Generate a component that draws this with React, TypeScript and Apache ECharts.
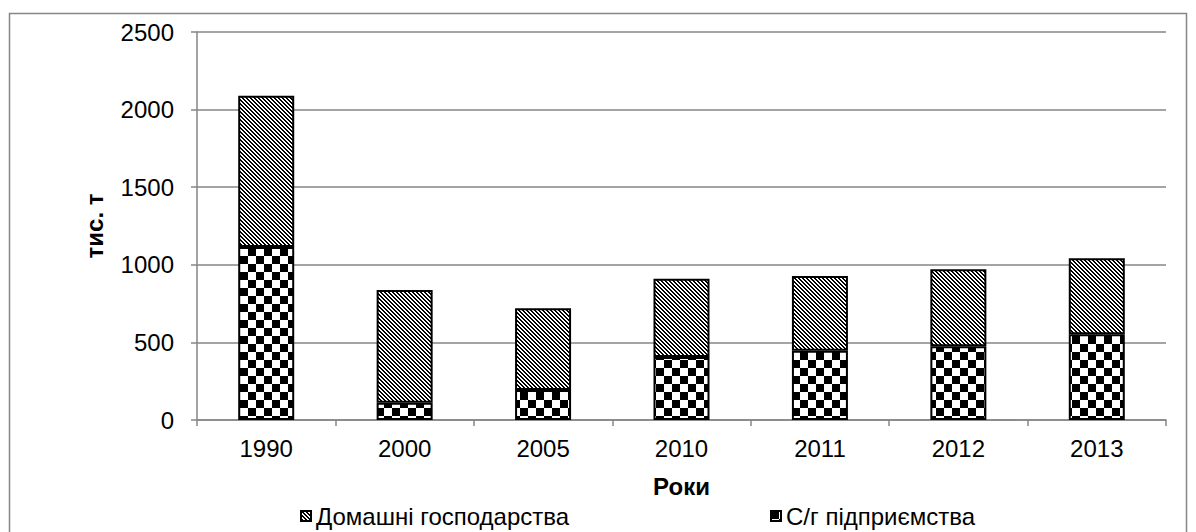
import React, { useEffect, useRef } from "react";
import * as echarts from "echarts";

const years = ["1990", "2000", "2005", "2010", "2011", "2012", "2013"];
const enterprises = [1115, 111, 193, 406, 447, 475, 552];
const households = [975, 727, 527, 504, 481, 496, 490];
const seriesNames = ["Домашні господарства", "С/г підприємства"];
const yTicks = { min: 0, max: 2500, interval: 500 };

function makeChecker(): HTMLCanvasElement {
  const c = document.createElement("canvas");
  const s = 8;
  c.width = s * 2;
  c.height = s * 2;
  const ctx = c.getContext("2d")!;
  ctx.fillStyle = "#ffffff";
  ctx.fillRect(0, 0, s * 2, s * 2);
  ctx.fillStyle = "#000000";
  ctx.fillRect(0, 0, s, s);
  ctx.fillRect(s, s, s, s);
  return c;
}

function makeStripes(): HTMLCanvasElement {
  const c = document.createElement("canvas");
  const n = 4;
  c.width = n;
  c.height = n;
  const ctx = c.getContext("2d")!;
  ctx.fillStyle = "#ffffff";
  ctx.fillRect(0, 0, n, n);
  ctx.fillStyle = "#000000";
  for (let y = 0; y < n; y++) {
    for (let x = 0; x < n; x++) {
      if ((x - y + 2 * n) % n < 2) ctx.fillRect(x, y, 1, 1);
    }
  }
  return c;
}

export default function App() {
  const ref = useRef<HTMLDivElement>(null);
  useEffect(() => {
    if (!ref.current) return;
    const chart = echarts.init(ref.current, undefined, { renderer: "svg" });
    const checker = makeChecker();
    const stripes = makeStripes();
    const font = "'Liberation Sans', Arial, sans-serif";
    const legendText = { fontSize: 24, fontFamily: font, color: "#000" };
    chart.setOption({
      animation: false,
      backgroundColor: "#ffffff",
      textStyle: { fontFamily: font, color: "#000" },
      graphic: [
        {
          type: "rect",
          shape: { x: 9.5, y: 13.5, width: 1177, height: 530 },
          style: { fill: "none", stroke: "#868686", lineWidth: 1.5 },
          silent: true,
        },
      ],
      grid: { left: 197, right: 30, top: 32, bottom: 112 },
      legend: [
        {
          data: [seriesNames[0]],
          left: 300,
          top: 504,
          padding: 0,
          icon: "rect",
          itemWidth: 10,
          itemHeight: 10,
          itemGap: 0,
          textStyle: legendText,
        },
        {
          data: [seriesNames[1]],
          left: 770,
          top: 504,
          padding: 0,
          icon: "rect",
          itemWidth: 10,
          itemHeight: 10,
          itemGap: 0,
          textStyle: legendText,
        },
      ],
      xAxis: {
        type: "category",
        data: years,
        name: "Роки",
        nameLocation: "middle",
        nameGap: 54,
        nameTextStyle: { fontSize: 24, fontWeight: "bold", fontFamily: font, color: "#000" },
        axisLine: { lineStyle: { color: "#868686", width: 1.5 } },
        axisTick: { show: true, length: 6, alignWithLabel: false, lineStyle: { color: "#868686", width: 1.5 } },
        axisLabel: { fontSize: 24, color: "#000", margin: 16, fontFamily: font },
      },
      yAxis: {
        type: "value",
        min: yTicks.min,
        max: yTicks.max,
        interval: yTicks.interval,
        name: "тис. т",
        nameLocation: "middle",
        nameRotate: 90,
        nameGap: 91,
        nameTextStyle: { fontSize: 24, fontWeight: "bold", fontFamily: font, color: "#000" },
        axisLine: { show: true, lineStyle: { color: "#868686", width: 1.5 } },
        axisTick: { show: true, length: 6, lineStyle: { color: "#868686", width: 1.5 } },
        axisLabel: {
          fontSize: 24,
          color: "#000",
          margin: 23,
          fontFamily: font,
          formatter: (v: number) => String(v),
        },
        splitLine: { show: true, lineStyle: { color: "#868686", width: 1.5 } },
      },
      series: [
        {
          name: seriesNames[1],
          type: "bar",
          stack: "total",
          barWidth: 56,
          data: enterprises,
          itemStyle: {
            color: { image: checker, repeat: "repeat" },
            borderColor: "#000",
            borderWidth: 2,
          },
        },
        {
          name: seriesNames[0],
          type: "bar",
          stack: "total",
          barWidth: 56,
          data: households,
          itemStyle: {
            color: { image: stripes, repeat: "repeat" },
            borderColor: "#000",
            borderWidth: 2,
          },
        },
      ],
    });
    return () => chart.dispose();
  }, []);
  return (
    <div
      ref={ref}
      style={{ position: "fixed", left: 0, top: 0, width: 1196, height: 532 }}
    />
  );
}
